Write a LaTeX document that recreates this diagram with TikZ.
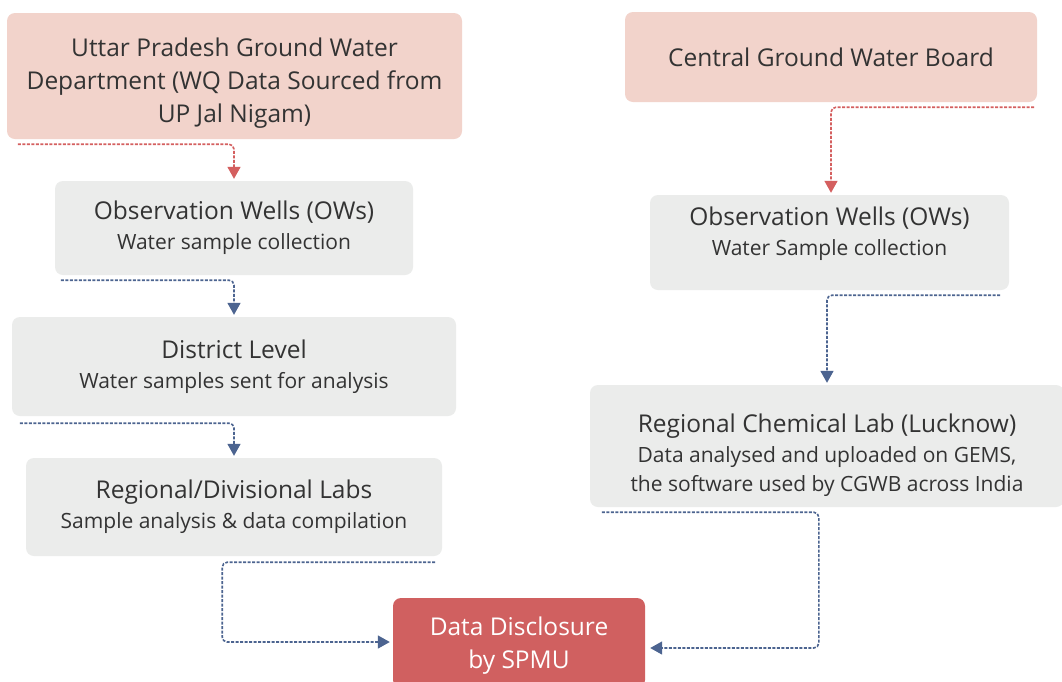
\documentclass[tikz,border=0pt]{standalone}
\usepackage{fontspec}
\setmainfont{Open Sans}
\usetikzlibrary{arrows.meta,calc}
\definecolor{pinkfill}{HTML}{F2D3CB}
\definecolor{greyfill}{HTML}{EBECEB}
\definecolor{ddfill}{HTML}{D06060}
\definecolor{redline}{HTML}{D45F5F}
\definecolor{blueline}{HTML}{4C6490}
\definecolor{txt}{HTML}{333333}
\newcommand{\ttlfont}{\fontsize{24.5}{33}\selectfont}
\newcommand{\subfont}{\fontsize{21}{29}\selectfont}
\tikzset{
  box/.style={rounded corners=8pt, inner sep=0pt, align=center, text=txt, anchor=center, font=\ttlfont},
  srcbox/.style={box, fill=pinkfill},
  stepbox/.style={box, fill=greyfill},
  finalbox/.style={box, fill=ddfill, text=white},
  conn/.style={line width=1.6pt, dash pattern=on 3pt off 1.5pt, rounded corners=5pt},
  redconn/.style={conn, draw=redline, -{Triangle[width=13pt,length=12pt]}},
  blueconn/.style={conn, draw=blueline, -{Triangle[width=13pt,length=12pt]}},
}
\begin{document}
\begin{tikzpicture}[x=1pt,y=-1pt]
\useasboundingbox[fill=white] (0,0) rectangle (1062,681);
% boxes
\node[srcbox, minimum width=455pt, minimum height=126pt] (up) at (234.5,76)
  {\rule{0pt}{33pt}Uttar Pradesh Ground Water\\Department (WQ Data Sourced from\\UP Jal Nigam)};
\node[srcbox, minimum width=412pt, minimum height=90pt] (cgwb) at (831,57)
  {Central Ground Water Board};
\node[stepbox, minimum width=358pt, minimum height=94pt] (owl) at (234,228)
  {Observation Wells (OWs)\\[-3pt]{\subfont Water sample collection}};
\node[stepbox, minimum width=444pt, minimum height=99pt] (dist) at (234,366.5)
  {District Level\\[-3pt]{\subfont Water samples sent for analysis}};
\node[stepbox, minimum width=416pt, minimum height=98pt] (rdl) at (234,507)
  {Regional/Divisional Labs\\[-3pt]{\subfont Sample analysis \& data compilation}};
\node[stepbox, minimum width=359pt, minimum height=95pt] (owr) at (829.5,242.5)
  {Observation Wells (OWs)\\[-3pt]{\subfont Water Sample collection\rule[-23pt]{0pt}{1pt}}};
\node[stepbox, minimum width=474pt, minimum height=122pt] (rcl) at (827,446)
  {\rule{0pt}{37pt}Regional Chemical Lab (Lucknow)\\[-3pt]{\subfont Data analysed and uploaded on GEMS,}\\[-4pt]{\subfont the software used by CGWB across India}};
\node[finalbox, minimum width=252pt, minimum height=90pt] (dd) at (519,643)
  {\rule{0pt}{24pt}Data Disclosure\\by SPMU};
% connectors
\draw[redconn, shorten >=2pt] ([xshift=11pt,yshift=-5pt]up.south west) -| (owl.north);
\draw[redconn, shorten >=2pt] ([xshift=-3pt,yshift=-5pt]cgwb.south east) -| ([xshift=1.5pt]owr.north);
\draw[blueconn, shorten >=2pt] ([xshift=6pt,yshift=-5pt]owl.south west) -| (dist.north);
\draw[blueconn, shorten >=2pt] ([xshift=8pt,yshift=-7pt]dist.south west) -| (rdl.north);
\draw[blueconn, shorten >=2pt] ([xshift=-9pt,yshift=-5pt]owr.south east) -| (rcl.north);
\draw[blueconn, shorten >=3pt] ([xshift=-7pt,yshift=-6pt]rdl.south east) -- ++(-213,0) |- ([yshift=1pt]dd.west);
\draw[blueconn, shorten >=5pt] ([xshift=12pt,yshift=-5pt]rcl.south west) -- ++(217,0) |- ([yshift=-5pt]dd.east);
\end{tikzpicture}
\end{document}
